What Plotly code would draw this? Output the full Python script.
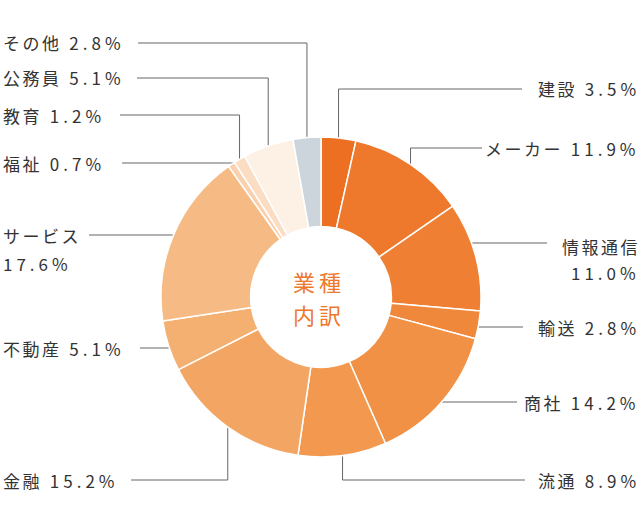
"""Donut chart: industry breakdown (業種内訳)."""

import math

import plotly.graph_objects as go

# data
industries = ["建設", "メーカー", "情報通信", "輸送", "商社", "流通", "金融",
              "不動産", "サービス", "福祉", "教育", "公務員", "その他"]
shares = [3.5, 11.9, 11.0, 2.8, 14.2, 8.9, 15.2, 5.1, 17.6, 0.7, 1.2, 5.1, 2.8]
slice_colors = ["#EC6F22", "#EE782B", "#EF8033", "#F0883C", "#F19145", "#F2994F",
                "#F3A663", "#F4B070", "#F6BB84", "#F9D1AE", "#FBDDC4", "#FDF0E5",
                "#CCD5DC"]
center_title = ["業種", "内訳"]

# label placement (pixels): side, line y, line end x, route
label_layout = {
    "建設": ("right", 89, 522, "v"),
    "メーカー": ("right", 148, 482, "v"),
    "情報通信": ("right", 243, 547, "h"),
    "輸送": ("right", 327, 523, "h"),
    "商社": ("right", 402, 517, "h"),
    "流通": ("right", 480, 525, "v"),
    "金融": ("left", 480, 131, "v"),
    "不動産": ("left", 348, 140, "h"),
    "サービス": ("left", 235, 89, "h"),
    "福祉": ("left", 163, 122, "h"),
    "教育": ("left", 115, 120, "v"),
    "公務員": ("left", 78, 137, "v"),
    "その他": ("left", 43, 138, "v"),
}
two_line = {"情報通信": (246, 272), "サービス": (235, 263)}

W, H = 640, 521
CX, CY, R = 321, 297, 160
LABEL_FONT = dict(family="Noto Sans CJK JP", size=17, color="#333333")


def tracked(text, px):
    return f'<span style="letter-spacing:{px}px">{text}</span>'


def note(x, y, text, anchor, font):
    # pixel position -> paper coordinates (so edge labels are never hidden)
    return dict(x=x / W, y=1 - y / H, xref="paper", yref="paper", text=text,
                showarrow=False, xanchor=anchor, yanchor="middle", font=font)


fig = go.Figure()

fig.add_trace(
    go.Pie(
        labels=industries,
        values=shares,
        sort=False,
        direction="clockwise",
        rotation=0,
        hole=0.44,
        textinfo="none",
        hoverinfo="label+percent",
        marker=dict(colors=slice_colors, line=dict(color="white", width=1.5)),
        domain=dict(x=[(CX - R) / W, (CX + R) / W],
                    y=[(H - CY - R) / H, (H - CY + R) / H]),
        showlegend=False,
    )
)

# leader lines, anchored at each slice's mid angle
total = sum(shares)
cum = 0.0
annotations = []
for name, val in zip(industries, shares):
    mid = (cum + val / 2) / total * 2 * math.pi
    cum += val
    side, ly, lx, route = label_layout[name]
    ax = CX + R * math.sin(mid)
    ay = CY - R * math.cos(mid)
    if route == "v":
        xs, ys = [lx, ax, ax], [ly, ly, ay]
    else:
        dx = math.sqrt(max(R ** 2 - (ly - CY) ** 2, 0))
        ex = CX + dx if side == "right" else CX - dx
        xs, ys = [lx, ex], [ly, ly]
    fig.add_trace(
        go.Scatter(x=xs, y=ys, mode="lines", line=dict(color="#666666", width=1),
                   hoverinfo="skip", showlegend=False)
    )

    pct = f"{val:.1f}%"
    tx = 642 if side == "right" else 1
    anchor = "right" if side == "right" else "left"
    if name in two_line:
        parts = [(tracked(name, 2.5), two_line[name][0]),
                 (tracked(pct, 4), two_line[name][1])]
    else:
        parts = [(tracked(name, 2.5) + tracked(" " + pct, 4), ly)]
    for text, ty in parts:
        annotations.append(note(tx, ty, text, anchor, LABEL_FONT))

for text, ty in zip(center_title, [281, 314]):
    annotations.append(note(CX - 2, ty, tracked(text, 4), "center",
                            dict(family="Noto Sans CJK JP", size=22,
                                 color="#EE782B")))

fig.update_layout(
    width=W,
    height=H,
    margin=dict(l=0, r=0, t=0, b=0),
    paper_bgcolor="white",
    plot_bgcolor="rgba(0,0,0,0)",
    xaxis=dict(range=[0, W], visible=False, domain=[0, 1], fixedrange=True),
    yaxis=dict(range=[H, 0], visible=False, domain=[0, 1], fixedrange=True),
    annotations=annotations,
)

fig.write_html("out.html", config={"displayModeBar": False},
               post_script="document.body.style.margin = '0';")
